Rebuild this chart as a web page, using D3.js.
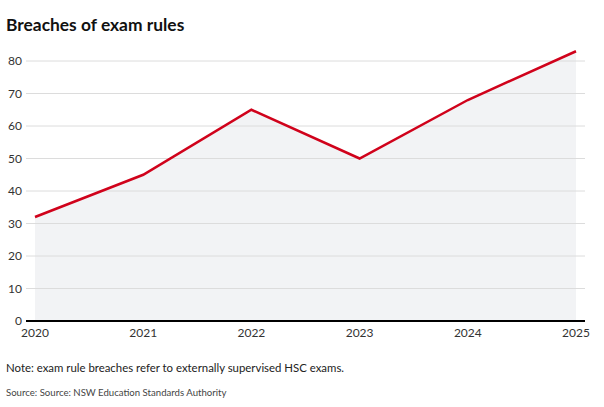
<!DOCTYPE html>
<html>
<head>
<meta charset="utf-8">
<script src="https://cdn.jsdelivr.net/npm/d3@7"></script>
<style>
  body { margin: 0; background: #fff; font-family: Lato, sans-serif; }
  svg text { font-family: Lato, sans-serif; }
</style>
</head>
<body>
<div id="chart"></div>
<script>
// chart data
var years = [2020, 2021, 2022, 2023, 2024, 2025];
var breaches = [32, 45, 65, 50, 68, 83];
var yTicks = [0, 10, 20, 30, 40, 50, 60, 70, 80];

var width = 604, height = 407;
var margin = {top: 61, right: 28, bottom: 86, left: 35};

var svg = d3.select("#chart").append("svg")
    .attr("width", width)
    .attr("height", height);

var x = d3.scaleLinear()
    .domain([2020, 2025])
    .range([margin.left, width - margin.right]);

var y = d3.scaleLinear()
    .domain([0, 80])
    .range([height - margin.bottom, margin.top]);

// title
svg.append("text")
    .attr("x", 6).attr("y", 31)
    .style("font-size", "17.4px").style("font-weight", "bold")
    .attr("fill", "#111")
    .text("Breaches of exam rules");

// gridlines + y labels
var grid = svg.append("g");
grid.selectAll("line").data(yTicks.filter(function(d) { return d > 0; }))
  .enter().append("line")
    .attr("x1", 26).attr("x2", 585)
    .attr("y1", function(d) { return y(d); })
    .attr("y2", function(d) { return y(d); })
    .attr("stroke", "#dcdcdc").attr("stroke-width", 1);

grid.selectAll("text").data(yTicks)
  .enter().append("text")
    .attr("x", 22)
    .attr("y", function(d) { return y(d) + 4; })
    .attr("text-anchor", "end")
    .style("font-size", "12px")
    .attr("fill", "#333")
    .text(function(d) { return d; });

var pts = years.map(function(yr, i) { return [yr, breaches[i]]; });

// shaded area
var area = d3.area()
    .x(function(d) { return x(d[0]); })
    .y0(y(0))
    .y1(function(d) { return y(d[1]); });

svg.append("path")
    .datum(pts)
    .attr("d", area)
    .attr("fill", "#f2f3f5");

grid.raise();

// line
var line = d3.line()
    .x(function(d) { return x(d[0]); })
    .y(function(d) { return y(d[1]); });

svg.append("path")
    .datum(pts)
    .attr("d", line)
    .attr("fill", "none")
    .attr("stroke", "#d0021b")
    .attr("stroke-width", 2.5);

// baseline
svg.append("line")
    .attr("x1", 26).attr("x2", 585)
    .attr("y1", y(0)).attr("y2", y(0))
    .attr("stroke", "#000").attr("stroke-width", 2);

// x labels
svg.selectAll(".xl").data(years)
  .enter().append("text")
    .attr("class", "xl")
    .attr("x", function(d) { return x(d); })
    .attr("y", y(0) + 16)
    .attr("text-anchor", "middle")
    .style("font-size", "12px")
    .attr("fill", "#333")
    .text(function(d) { return d; });

// notes
svg.append("text")
    .attr("x", 6).attr("y", 372)
    .style("font-size", "11.4px")
    .attr("fill", "#222")
    .text("Note: exam rule breaches refer to externally supervised HSC exams.");

svg.append("text")
    .attr("x", 6).attr("y", 396)
    .style("font-size", "9.6px")
    .attr("fill", "#444")
    .text("Source: Source: NSW Education Standards Authority");
</script>
</body>
</html>
